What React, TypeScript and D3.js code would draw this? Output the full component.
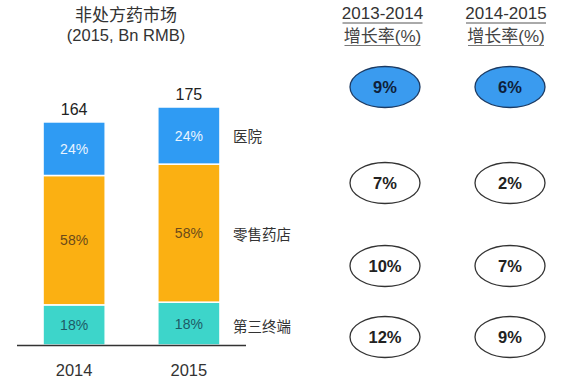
import React from "react";
import * as d3 from "d3";

const years = ["2014", "2015"];
const totals = [164, 175];
const segments = ["第三终端", "零售药店", "医院"];
const shareThird = [18, 18];
const shareRetail = [58, 58];
const shareHospital = [24, 24];
const growthHeaders = ["2013-2014", "2014-2015"];
const growth1314 = [9, 7, 10, 12];
const growth1415 = [6, 2, 7, 9];

const W = 564;
const H = 378;
const FONT = "'Liberation Sans', Arial, 'Noto Sans CJK SC', sans-serif";
const segColors = ["#3dd5ca", "#fbb012", "#2f9bf3"];
const segText = ["#1d5a66", "#6b4a1a", "#e8f4ff"];

export default function App() {
  const x = d3.scaleBand<string>().domain(years).range([17, 246]).paddingInner(0.4585).paddingOuter(0.227);
  const y = d3.scaleLinear().domain([0, 175]).range([345, 107]);

  const rows = years.map((yr, i) => ({
    year: yr,
    [segments[0]]: (totals[i] * shareThird[i]) / 100,
    [segments[1]]: (totals[i] * shareRetail[i]) / 100,
    [segments[2]]: (totals[i] * shareHospital[i]) / 100,
  }));
  const shares = [shareThird, shareRetail, shareHospital];
  const stacked = d3.stack<any>().keys(segments)(rows);

  const segLabelY = [327, 235, 137];
  const colX = [385, 510];
  const headerX = [382.5, 506];
  const rowYs = [87, 183, 266, 337];
  const growthCols = [growth1314, growth1415];

  return (
    <svg width={W} height={H} style={{ position: "absolute", left: 0, top: 0 }} fontFamily={FONT}>
      <rect width={W} height={H} fill="#fff" />
      <text x={126} y={21} textAnchor="middle" fontSize={17} fill="#333">非处方药市场</text>
      <text x={126} y={41} textAnchor="middle" fontSize={16.5} fill="#333">(2015, Bn RMB)</text>

      {stacked.map((layer, li) => (
        <g key={layer.key}>
          {layer.map((d, i) => {
            const x0 = x(years[i])!;
            const y0 = y(d[1]);
            const h = y(d[0]) - y(d[1]);
            return (
              <g key={i}>
                <rect x={x0} y={y0} width={x.bandwidth()} height={h} fill={segColors[li]} stroke="#fff" strokeWidth={1.5} />
                <text x={x0 + x.bandwidth() / 2} y={y0 + h / 2 + 5} textAnchor="middle" fontSize={14} fill={segText[li]}>
                  {shares[li][i]}%
                </text>
              </g>
            );
          })}
        </g>
      ))}

      {years.map((yr, i) => (
        <g key={yr}>
          <text x={x(yr)! + x.bandwidth() / 2} y={y(totals[i]) - 7} textAnchor="middle" fontSize={16} fill="#222">{totals[i]}</text>
          <text x={x(yr)! + x.bandwidth() / 2} y={376} textAnchor="middle" fontSize={16.5} fill="#333">{yr}</text>
        </g>
      ))}
      <line x1={17} x2={246} y1={345.5} y2={345.5} stroke="#333" strokeWidth={1.5} />

      {segments.map((s, i) => (
        <text key={s} x={233} y={segLabelY[i] + 5} fontSize={14.5} fill="#333">{s}</text>
      ))}

      {growthHeaders.map((h, ci) => (
        <g key={h}>
          <text x={headerX[ci]} y={19} textAnchor="middle" fontSize={17} fill="#333">{h}</text>
          <line x1={headerX[ci] - 40} x2={headerX[ci] + 40} y1={23} y2={23} stroke="#555" strokeWidth={1} />
          <text x={headerX[ci]} y={42} textAnchor="middle" fontSize={17} fill="#444">增长率(%)</text>
          <line x1={headerX[ci] - 38} x2={headerX[ci] + 38} y1={45.5} y2={45.5} stroke="#777" strokeWidth={1} />
        </g>
      ))}

      {growthCols.map((col, ci) =>
        col.map((v, ri) => (
          <g key={`${ci}-${ri}`}>
            <ellipse cx={colX[ci]} cy={rowYs[ri]} rx={35} ry={20.5} fill={ri === 0 ? "#3a9bef" : "#fff"} stroke={ri === 0 ? "#1b3a63" : "#333"} strokeWidth={1.3} />
            <text x={colX[ci]} y={rowYs[ri] + 6} textAnchor="middle" fontSize={16.5} fontWeight="bold" fill={ri === 0 ? "#0f1f3a" : "#222"}>{v}%</text>
          </g>
        ))
      )}
    </svg>
  );
}
